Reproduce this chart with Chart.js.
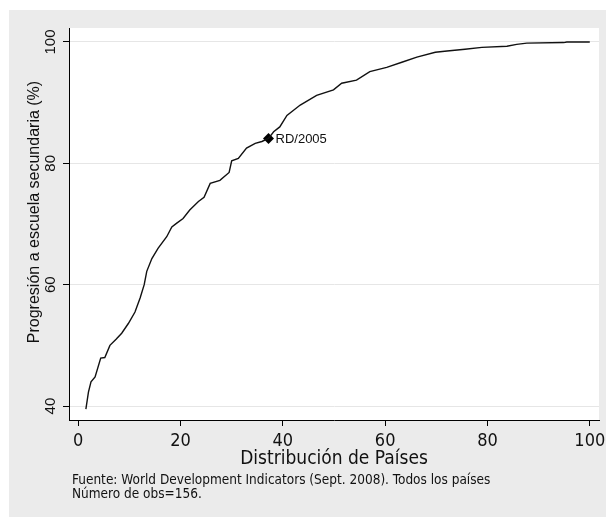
<!DOCTYPE html>
<html>
<head>
<meta charset="utf-8">
<script src="https://cdn.jsdelivr.net/npm/chart.js@4"></script>
<style>
  html, body { margin: 0; padding: 0; background: #fff; }
  canvas { display: block; }
</style>
</head>
<body>
<canvas id="chart" width="606" height="517"></canvas>
<script>
// percentile of countries (x) and progression rate (y)
const distPaises = [1.5, 2.0, 2.5, 3.3, 4.4, 5.2, 6.2, 7.4, 8.5, 9.8, 11.1, 12.1, 12.9, 13.4, 14.4, 15.6, 17.3, 18.3, 19.2, 20.5,
  21.8, 23.5, 24.6, 25.8, 27.7, 29.5, 30.0, 31.3, 32.9, 34.6, 35.9, 37.2, 38.2, 39.4, 40.8, 43.4, 46.6, 49.9, 51.5, 54.4,
  57.0, 60.3, 63.4, 66.2, 69.8, 72.1, 75.6, 78.9, 83.8, 85.7, 87.7, 94.9, 95.5, 100];
const progresion = [39.5, 42.3, 44.0, 44.8, 47.9, 48.0, 50.0, 51.0, 52.0, 53.6, 55.5, 57.8, 60.0, 62.2, 64.3, 66.0, 67.9, 69.5, 70.1, 70.9,
  72.3, 73.7, 74.4, 76.7, 77.2, 78.5, 80.4, 80.8, 82.5, 83.3, 83.6, 84.1, 85.2, 86.0, 87.9, 89.6, 91.2, 92.1, 93.2, 93.7,
  95.1, 95.8, 96.7, 97.5, 98.3, 98.5, 98.8, 99.1, 99.3, 99.6, 99.8, 99.9, 100.0, 100.0];

// highlighted country
const rdLabel = 'RD/2005';
const rdX = 37.2;
const rdY = 84.1;

const xTicks = [0, 20, 40, 60, 80, 100];
const yTicks = [40, 60, 80, 100];

const xTitle = 'Distribución de Países';
const yTitle = 'Progresión a escuela secundaria (%)';
const notes = ['Fuente: World Development Indicators (Sept. 2008). Todos los países', 'Número de obs=156.'];

const narrow = "'Liberation Sans Narrow', 'DejaVu Sans Condensed', sans-serif";
const regular = "'Liberation Sans', Arial, sans-serif";

const stataLook = {
  id: 'stataLook',
  beforeDraw(chart) {
    const ctx = chart.ctx;
    const a = chart.chartArea;
    ctx.save();
    ctx.fillStyle = '#ffffff';
    ctx.fillRect(0, 0, chart.width, chart.height);
    ctx.fillStyle = '#ebebeb';
    ctx.fillRect(9, 10, chart.width - 9, chart.height - 10);
    ctx.fillStyle = '#ffffff';
    ctx.fillRect(a.left, a.top, a.right - a.left, a.bottom - a.top);
    ctx.restore();
  },
  afterDraw(chart) {
    const ctx = chart.ctx;
    const y = chart.scales.y;
    const x = chart.scales.x;
    const a = chart.chartArea;
    ctx.save();
    ctx.fillStyle = '#111';

    // vertical tick labels on the y axis
    ctx.font = '15px ' + regular;
    ctx.textAlign = 'center';
    ctx.textBaseline = 'alphabetic';
    yTicks.forEach(v => {
      ctx.save();
      ctx.translate(55, y.getPixelForValue(v));
      ctx.rotate(-Math.PI / 2);
      ctx.fillText(String(v), 0, 0);
      ctx.restore();
    });

    // y title
    ctx.font = '16px ' + regular;
    ctx.save();
    ctx.translate(39, 212);
    ctx.rotate(-Math.PI / 2);
    ctx.fillText(yTitle, 0, 0);
    ctx.restore();

    // x title
    ctx.font = '19px ' + narrow;
    ctx.fillText(xTitle, (a.left + a.right) / 2, 464);

    // notes
    ctx.font = '13.5px ' + narrow;
    ctx.textAlign = 'left';
    ctx.fillText(notes[0], 72, 484);
    ctx.fillText(notes[1], 72, 498);

    // marker label
    ctx.font = '13px ' + regular;
    ctx.textBaseline = 'middle';
    ctx.fillText(rdLabel, x.getPixelForValue(rdX) + 7, y.getPixelForValue(rdY) + 1);
    ctx.restore();
  }
};

new Chart(document.getElementById('chart'), {
  type: 'scatter',
  data: {
    datasets: [
      {
        data: distPaises.map((v, i) => ({ x: v, y: progresion[i] })),
        showLine: true,
        borderColor: '#111',
        borderWidth: 1.4,
        pointRadius: 0,
        tension: 0
      },
      {
        data: [{ x: rdX, y: rdY }],
        pointStyle: 'rectRot',
        pointRadius: 5.5,
        backgroundColor: '#000',
        borderColor: '#000',
        borderWidth: 0
      }
    ]
  },
  options: {
    responsive: false,
    animation: false,
    layout: { padding: { left: 0, top: 28, right: 7, bottom: 0 } },
    plugins: {
      legend: { display: false },
      tooltip: { enabled: false }
    },
    scales: {
      x: {
        type: 'linear',
        min: -1.8,
        max: 101.8,
        afterBuildTicks: s => { s.ticks = xTicks.map(v => ({ value: v })); },
        afterFit: s => { s.height = 97; s.paddingLeft = 0; s.paddingRight = 0; },
        border: { display: true, color: '#000', width: 1 },
        grid: { drawOnChartArea: false, tickColor: '#000', tickLength: 6 },
        ticks: {
          autoSkip: false,
          maxRotation: 0,
          padding: 5,
          color: '#111',
          font: { family: narrow, size: 18 }
        }
      },
      y: {
        type: 'linear',
        min: 37.7,
        max: 102.3,
        afterBuildTicks: s => { s.ticks = yTicks.map(v => ({ value: v })); },
        afterFit: s => { s.width = 69; s.paddingTop = 0; s.paddingBottom = 0; },
        border: { display: true, color: '#000', width: 1 },
        grid: { color: '#e6e6e6', tickColor: '#000', tickLength: 6 },
        ticks: { display: false }
      }
    }
  },
  plugins: [stataLook]
});
</script>
</body>
</html>
